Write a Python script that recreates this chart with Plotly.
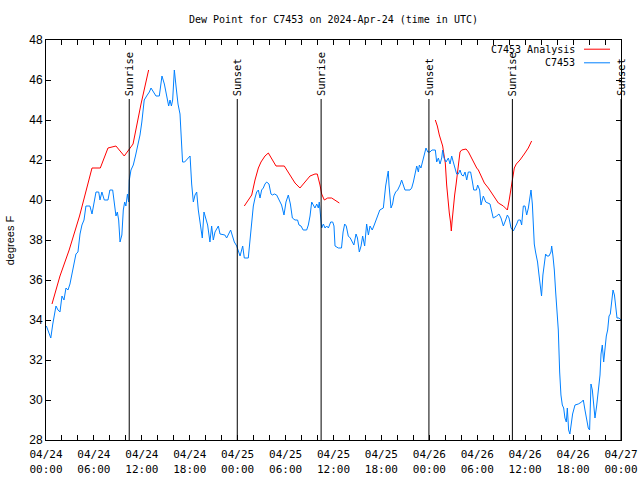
import pandas as pd
import plotly.graph_objects as go

BASE = pd.Timestamp("2024-04-24 00:00")

# Observed dew point (C7453): hours since 04/24 00:00 UTC, degrees F
obs_hours = [0.05, 0.35, 0.6, 0.85, 1.0, 1.25, 1.5, 1.75, 2.0, 2.25, 2.5, 2.75, 3.0, 3.25, 3.5, 3.75, 4.0, 4.26, 4.5, 4.76,
             5.0, 5.5, 5.76, 6.05, 6.26, 6.6, 6.76, 7.0, 7.3, 7.76, 8.0, 8.35, 8.6, 8.76, 8.93, 9.1, 9.27, 9.5, 9.68, 9.85,
             10.0, 10.2, 10.35, 10.43, 10.64, 10.93, 11.2, 11.5, 11.77, 12.0, 12.3, 12.6, 12.94, 13.15, 13.44, 13.77, 14.19,
             14.52, 14.82, 15.1, 15.36, 15.53, 15.7, 15.86, 16.07, 16.28, 16.53, 16.78, 16.95, 17.1, 17.36, 17.74, 18.04,
             18.24, 18.45, 18.66, 18.87, 19.07, 19.28, 19.57, 19.78, 20.0, 20.24, 20.53, 20.74, 20.95, 21.16, 21.58, 21.79,
             22.4, 22.62, 23.12, 23.58, 23.88, 24.17, 24.3, 24.63, 24.83, 25.33, 25.55, 25.76, 25.96, 26.17, 26.38, 26.59,
             26.8, 27.0, 27.21, 27.42, 27.63, 27.92, 28.17, 28.34, 28.6, 28.88, 29.17, 29.5, 29.8, 30.05, 30.34, 30.6,
             30.85, 31.18, 31.5, 31.68, 31.93, 32.2, 32.64, 32.85, 33.06, 33.27, 33.47, 33.68, 33.9, 34.1, 34.22, 34.4,
             34.52, 34.73, 34.94, 35.15, 35.36, 35.65, 35.9, 36.06, 36.19, 36.6, 37.0, 37.2, 37.4, 37.6, 37.85, 38.1, 38.4,
             38.55, 38.82, 39.0, 39.23, 39.45, 39.65, 39.9, 40.15, 40.37, 40.57, 40.85, 41.1, 41.4, 41.61, 41.8, 42.24,
             42.36, 42.53, 42.74, 42.86, 42.95, 43.07, 43.2, 43.4, 43.57, 43.78, 44.03, 44.33, 44.53, 44.74, 44.95, 45.58,
             45.79, 46.0, 46.2, 46.42, 46.63, 46.75, 46.95, 47.17, 47.38, 47.58, 47.8, 48.08, 48.33, 48.75, 48.92, 49.13,
             49.34, 49.55, 49.67, 49.84, 50.09, 50.38, 50.59, 50.8, 51.0, 51.22, 51.42, 51.63, 51.84, 52.05, 52.26, 52.47,
             52.68, 52.88, 53.17, 53.4, 53.56, 53.9, 54.05, 54.3, 54.47, 54.76, 55.06, 55.6, 55.89, 56.0, 56.43, 56.72,
             56.97, 57.27, 57.56, 57.77, 57.98, 58.23, 58.52, 58.73, 58.94, 59.14, 59.4, 59.56, 59.77, 59.98, 60.19, 60.4,
             60.6, 60.73, 60.9, 61.0, 61.14, 61.3, 61.55, 61.72, 61.9, 62.05, 62.22, 62.4, 62.56, 62.73, 62.98, 63.23,
             63.32, 63.48, 63.65, 63.82, 63.98, 64.15, 64.32, 64.48, 64.65, 64.82, 64.98, 65.15, 65.28, 65.44, 65.6, 65.78,
             65.94, 66.24, 66.65, 67.07, 67.28, 67.49, 67.7, 67.9, 68.07, 68.24, 68.41, 68.57, 68.74, 68.95, 69.16, 69.37,
             69.5, 69.66, 69.83, 70.0, 70.16, 70.33, 70.5, 70.66, 70.83, 71.0, 71.18, 71.34, 71.5, 71.76, 72.0]
obs_values = [33.7, 33.4, 33.1, 33.8, 34.1, 34.7, 34.5, 34.4, 35.2, 35.0, 35.6, 35.5, 35.8, 36.3, 36.8, 37.3, 37.4, 38.3, 38.75, 39.0,
              39.7, 39.7, 39.3, 40.0, 40.4, 40.4, 40.0, 40.4, 40.0, 40.0, 40.5, 40.5, 39.7, 39.2, 39.4, 39.0, 37.9, 38.25, 39.5, 39.9,
              39.7, 40.3, 39.9, 41.0, 41.5, 41.75, 42.2, 42.75, 43.25, 43.9, 45.0, 45.2, 45.4, 45.6, 45.4, 45.2, 45.2,
              46.2, 45.8, 45.3, 44.7, 45.0, 44.7, 45.0, 46.5, 45.7, 44.8, 44.3, 43.1, 41.9, 41.9, 42.1, 42.2,
              40.8, 39.9, 40.25, 40.4, 39.5, 39.0, 38.1, 39.4, 39.1, 38.75, 37.9, 38.7, 38.0, 38.4, 38.7, 38.3,
              38.25, 38.1, 38.5, 37.9, 37.7, 37.3, 37.2, 37.7, 37.1, 37.1, 38.0, 38.8, 39.7, 40.1, 40.4, 40.5,
              40.1, 40.5, 40.6, 40.8, 40.9, 40.8, 40.3, 40.25, 40.3, 40.25, 40.0, 39.75, 39.25, 39.9, 40.25, 39.8,
              39.1, 39.0, 39.0, 38.75, 38.7, 38.5, 38.5, 38.75, 39.2, 39.9, 39.75, 39.6, 39.8, 39.6, 39.9, 39.1,
              38.6, 38.8, 38.6, 38.7, 38.6, 38.9, 38.9, 38.7, 37.7, 37.6, 37.6, 38.4, 38.8, 38.7, 38.2, 38.1, 37.9,
              37.75, 38.3, 38.1, 37.4, 37.7, 38.2, 37.7, 38.8, 38.25, 38.7, 38.5, 38.75, 39.1, 39.3, 39.5, 39.6,
              40.1, 40.7, 41.2, 41.45, 40.75, 40.3, 39.6, 39.8, 40.2, 40.4, 40.5, 40.75, 41.0, 40.75, 40.5, 40.5,
              40.6, 40.9, 41.25, 41.7, 41.4, 41.75, 41.6, 42.0, 42.3, 42.6, 42.4, 42.4, 42.5, 42.5, 41.9, 42.1,
              41.8, 42.1, 42.5, 42.1, 41.9, 42.1, 41.8, 42.2, 41.9, 41.6, 41.3, 41.3, 41.5, 41.25, 41.2, 41.4,
              41.0, 41.4, 41.4, 40.9, 40.5, 40.5, 40.75, 40.5, 39.75, 40.2, 39.9, 39.8, 39.25, 39.1, 39.2, 39.3,
              39.1, 38.7, 39.0, 39.25, 39.1, 38.6, 38.45, 38.6, 38.8, 39.0, 39.0, 38.75, 39.7, 39.7, 39.25, 39.6,
              40.2, 40.5, 39.8, 38.6, 37.8, 37.4, 36.9, 36.3, 35.5, 35.2, 36.25, 36.75, 37.3, 37.2, 37.2, 37.4,
              37.7, 37.2, 36.5, 35.4, 34.4, 33.5, 31.4, 30.25, 29.75, 29.6, 29.1, 28.9, 29.6, 28.5, 28.3, 28.9,
              29.3, 29.75, 29.8, 29.9, 30.0, 29.5, 29.0, 28.6, 28.5, 30.8, 30.5, 29.6, 29.1, 29.7, 30.5, 31.25,
              32.3, 32.75, 31.9, 32.7, 33.2, 33.5, 34.2, 34.3, 34.8, 35.5, 35.25, 34.6, 34.1, 34.1, 34.0]

# Analysis dew point (C7453 Analysis), three separate segments (None = gap)
ana_hours = [0.75, 1.75, 2.9, 4.2, 5.76, 6.8, 7.76, 8.76, 9.8, 10.4, 10.9, 11.9, 12.85, None,
             24.83, 25.33, 25.76, 26.17, 26.59, 26.92, 27.42, 27.84, 28.34, 28.8, 29.84, 30.68, 31.18, 31.8, 32.43,
             33.06, 33.68, 33.97, 34.31, 34.52, 34.85, 35.27, 35.77, 36.1, 36.73, None,
             48.75, 49.0, 49.25, 49.5, 49.67, 49.84, 50.0, 50.17, 50.34, 50.5, 50.67, 50.75, 50.84, 51.0, 51.17,
             51.34, 51.5, 51.67, 51.84, 52.05, 52.6, 52.9, 53.5, 53.93, 54.14, 54.89, 55.39, 55.81, 56.22, 56.64,
             57.27, 57.77, 58.0, 58.23, 58.44, 58.64, 58.89, 59.35, 59.89, 60.39, 60.81]
ana_values = [34.8, 36.2, 37.5, 39.2, 41.6, 41.6, 42.6, 42.7, 42.2, 42.5, 42.8, 44.8, 46.5, None,
              39.7, 40.0, 40.25, 41.0, 41.6, 41.9, 42.2, 42.35, 42.0, 41.7, 41.7, 41.2, 40.85, 40.6, 40.9,
              41.2, 41.3, 41.3, 40.75, 40.3, 40.0, 40.1, 40.1, 40.0, 39.85, None,
              44.0, 43.7, 43.25, 42.9, 42.7, 42.25, 41.85, 40.75, 39.85, 39.35, 38.85, 38.45, 38.9, 39.7, 40.25,
              40.75, 41.25, 41.85, 42.4, 42.5, 42.55, 42.4, 41.9, 41.6, 41.5, 40.85, 40.6, 40.35, 40.05, 39.85,
              39.7, 39.5, 40.0, 40.6, 41.1, 41.6, 41.8, 42.0, 42.3, 42.6, 42.95]

# Sun events (hours since 04/24 00:00 UTC)
sun_labels = ["Sunrise", "Sunset", "Sunrise", "Sunset", "Sunrise", "Sunset"]
sun_hours = [10.42, 23.95, 34.45, 47.95, 58.4, 72.0]
sun_line_top = 45.05

title_text = "Dew Point for C7453 on 2024-Apr-24 (time in UTC)"
y_title = "degrees F"
legend_names = ["C7453 Analysis", "C7453"]
colors = ["#ff0000", "#0080ff"]


def to_time(hours):
    return [None if h is None else BASE + pd.Timedelta(hours=h) for h in hours]


MONO = "DejaVu Sans Mono"
SANS = "Liberation Sans"

fig = go.Figure()
fig.add_trace(go.Scatter(x=to_time(ana_hours), y=ana_values, mode="lines", name=legend_names[0],
                         line=dict(color=colors[0], width=1), connectgaps=False))
fig.add_trace(go.Scatter(x=to_time(obs_hours), y=obs_values, mode="lines", name=legend_names[1],
                         line=dict(color=colors[1], width=1)))

sun_times = to_time(sun_hours)
for lab, t in zip(sun_labels, sun_times):
    fig.add_shape(type="line", xref="x", yref="y", x0=t, x1=t, y0=28, y1=sun_line_top,
                  line=dict(color="black", width=1))
    fig.add_annotation(x=t, y=sun_line_top, xref="x", yref="y", text=lab, textangle=-90,
                       showarrow=False, xanchor="center", yanchor="bottom", yshift=1,
                       font=dict(family=MONO, size=10.5, color="black"))

# custom legend (text right-aligned, line sample on the right)
leg_y = [0.977, 0.943]
for name, col, yy in zip(legend_names, colors, leg_y):
    fig.add_annotation(x=0.9235, y=yy, xref="paper", yref="paper", text=name, showarrow=False,
                       xanchor="right", yanchor="middle", font=dict(family=MONO, size=10, color="black"))
    fig.add_shape(type="line", xref="paper", yref="paper", x0=0.9357, x1=0.9809, y0=yy, y1=yy,
                  line=dict(color=col, width=1))

# title and y-axis title as annotations (fixed positions)
fig.add_annotation(x=0.5, y=1.05, xref="paper", yref="paper", text=title_text, showarrow=False,
                   xanchor="center", yanchor="middle", font=dict(family=MONO, size=10, color="black"))
fig.add_annotation(x=-0.062, y=0.5, xref="paper", yref="paper", text=y_title, showarrow=False,
                   textangle=-90, xanchor="center", yanchor="middle",
                   font=dict(family=SANS, size=11, color="black"))

fig.update_layout(
    width=640, height=480,
    margin=dict(l=46, r=19, t=40, b=40, autoexpand=False),
    paper_bgcolor="white", plot_bgcolor="white",
    showlegend=False,
    xaxis=dict(type="date", range=[BASE, BASE + pd.Timedelta(hours=72)], automargin=False,
               tick0=BASE, dtick=6 * 3600 * 1000, tickformat="%m/%d<br>%H:%M",
               ticks="inside", ticklen=5, tickcolor="black", showline=True, linecolor="black",
               linewidth=1, mirror="ticks", showgrid=False, zeroline=False, ticklabelstandoff=4,
               tickfont=dict(family=MONO, size=11, color="black"),
               minor=dict(dtick=2 * 3600 * 1000, tick0=BASE, ticks="inside", ticklen=5,
                          tickcolor="black", showgrid=False)),
    yaxis=dict(range=[28, 48], dtick=2, ticks="inside", ticklen=5, tickcolor="black", automargin=False,
               showline=True, linecolor="black", linewidth=1, mirror="ticks",
               showgrid=False, zeroline=False,
               tickfont=dict(family=SANS, size=12, color="black")),
)

fig.write_html("out.html", config={"displayModeBar": False},
               post_script="document.body.style.margin='0px';document.body.style.overflow='hidden';")
